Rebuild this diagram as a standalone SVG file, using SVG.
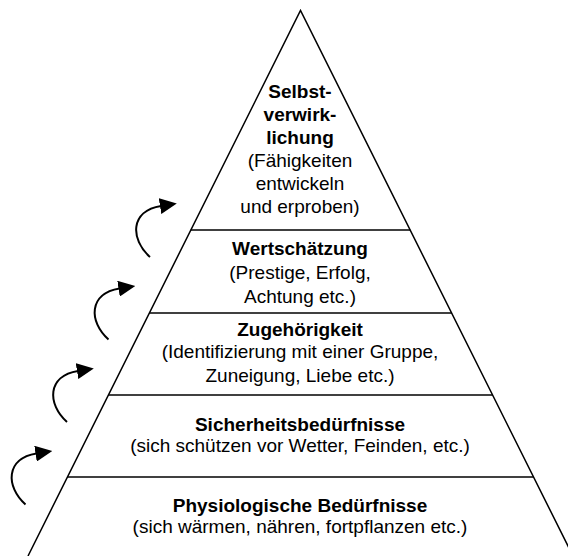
<svg xmlns="http://www.w3.org/2000/svg" width="568" height="556" viewBox="0 0 568 556">
<style>
.edge{fill:none;stroke:#000;stroke-width:1.5}
.t{font-family:"Liberation Sans",Arial,sans-serif;font-size:19px;text-anchor:middle;fill:#000}
.b{font-weight:bold}
.arr{fill:none;stroke:#000;stroke-width:2}
</style>
<defs>
<marker id="ah" viewBox="0 0 17 16" refX="1" refY="8" markerWidth="17" markerHeight="16" markerUnits="userSpaceOnUse" orient="auto"><path d="M0,0 L17,8 L0,16 z" fill="#000"/></marker>
</defs>
<rect width="568" height="556" fill="#fff"/>
<g id="pyramid">
<polyline class="edge" points="28,556 300.5,10.5 573,556"/>
<line class="edge" x1="190.7" y1="230" x2="410.3" y2="230" stroke-width="2"/>
<line class="edge" x1="149.2" y1="313" x2="451.8" y2="313"/>
<line class="edge" x1="108.2" y1="395" x2="492.8" y2="395"/>
<line class="edge" x1="67.2" y1="477" x2="533.8" y2="477"/>
</g>
<g id="level5">
<text class="t b" x="300" y="98">Selbst-</text>
<text class="t b" x="300" y="121">verwirk-</text>
<text class="t b" x="300" y="144">lichung</text>
<text class="t" x="300" y="167">(Fähigkeiten</text>
<text class="t" x="300" y="190">entwickeln</text>
<text class="t" x="300" y="213">und erproben)</text>
</g>
<g id="level4">
<text class="t b" x="300" y="255">Wertschätzung</text>
<text class="t" x="300" y="279">(Prestige, Erfolg,</text>
<text class="t" x="300" y="303">Achtung etc.)</text>
</g>
<g id="level3">
<text class="t b" x="300" y="336">Zugehörigkeit</text>
<text class="t" x="300" y="358">(Identifizierung mit einer Gruppe,</text>
<text class="t" x="300" y="382">Zuneigung, Liebe etc.)</text>
</g>
<g id="level2">
<text class="t b" x="300" y="431">Sicherheitsbedürfnisse</text>
<text class="t" x="300" y="452">(sich schützen vor Wetter, Feinden, etc.)</text>
</g>
<g id="level1">
<text class="t b" x="300" y="512">Physiologische Bedürfnisse</text>
<text class="t" x="300" y="533">(sich wärmen, nähren, fortpflanzen etc.)</text>
</g>
<g id="connectors">
<path class="arr" marker-end="url(#ah)" transform="translate(150,257)" d="M0,0 C-20,-18 -20,-46 11,-51"/>
<path class="arr" marker-end="url(#ah)" transform="translate(108.5,339.5)" d="M0,0 C-20,-18 -20,-46 11,-51"/>
<path class="arr" marker-end="url(#ah)" transform="translate(67,422)" d="M0,0 C-20,-18 -20,-46 11,-51"/>
<path class="arr" marker-end="url(#ah)" transform="translate(25.5,504.5)" d="M0,0 C-20,-18 -20,-46 11,-51"/>
</g>
</svg>
